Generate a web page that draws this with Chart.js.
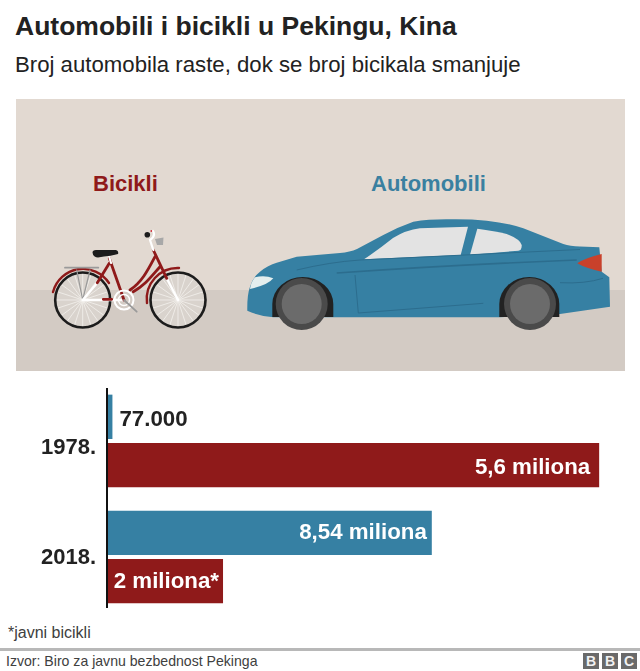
<!DOCTYPE html>
<html>
<head>
<meta charset="utf-8">
<title>Automobili i bicikli u Pekingu, Kina</title>
<script src="https://cdn.jsdelivr.net/npm/chart.js@4.4.3/dist/chart.umd.min.js"></script>
<style>
    html, body { margin: 0; padding: 0; background: #fff; }
    body { width: 640px; height: 671px; position: relative; overflow: hidden; font-family: "Liberation Sans", Arial, sans-serif; }
    .txt { position: absolute; white-space: nowrap; line-height: 1; }
    #title { left: 15px; top: 13px; font-size: 26.5px; font-weight: bold; color: #222; }
    #subtitle { left: 15px; top: 54px; font-size: 22.2px; color: #222; }
    #art { position: absolute; left: 0; top: 0; }
    #bikeLabel { left: 93px; top: 173px; font-size: 22px; font-weight: bold; color: #8f1a1a; }
    #carLabel { left: 371px; top: 173px; font-size: 22px; font-weight: bold; color: #3a80a0; }
    #chartBox { position: absolute; left: 0; top: 383px; width: 640px; height: 232px; }
    #note { left: 8px; top: 625px; font-size: 16px; color: #404040; }
    #rule { position: absolute; left: 0; top: 648px; width: 640px; height: 3px; background: #b8b8b8; }
    #source { left: 6px; top: 654px; font-size: 14.1px; color: #404040; }
    .bbc { position: absolute; top: 653px; width: 16px; height: 16px; background: #6a6a6a; color: #f2f2f2; font-size: 14px; font-weight: bold; line-height: 16px; text-align: center; }
</style>
</head>
<body>
    <div class="txt" id="title">Automobili i bicikli u Pekingu, Kina</div>
    <div class="txt" id="subtitle">Broj automobila raste, dok se broj bicikala smanjuje</div>

    <svg id="art" width="640" height="380" viewBox="0 0 640 380">
        <rect x="16" y="99" width="609" height="272" fill="#e2d9d1"/>
        <rect x="16" y="290" width="609" height="81" fill="#d3cbc4"/>

        <!-- bicycle -->
        <g id="bike" fill="none" stroke-linecap="round">
            <g id="spokes"></g>
            <circle cx="82.7" cy="300" r="27.5" stroke="#1c1c1c" stroke-width="2.6"/>
            <circle cx="178" cy="300" r="27.5" stroke="#1c1c1c" stroke-width="2.6"/>
            <path d="M53 292 A 31 31 0 0 1 109 283" stroke="#8f1a1a" stroke-width="2.4"/>
            <path d="M147 303 A 31 31 0 0 1 179 268" stroke="#8f1a1a" stroke-width="2.4"/>
            <path d="M76.7 270 L82.7 300 L90 270" stroke="#9a9a9a" stroke-width="1.2"/>
            <path d="M65 267.7 L98.3 267.7" stroke="#9a9a9a" stroke-width="1.8"/>
            <path d="M82.7 300 L97.3 282.7 M82.7 300 L124 300 M166.7 278.3 L178 300" stroke="#fff" stroke-width="2.4"/>
            <path d="M109.3 258.3 L124 300 M109.3 263.3 L97.3 282.7 M153.3 250 L166.7 278.3 M155 256.7 C148 270 142 282 130 290 M160 266.7 C150 278 145 285 133.3 291.7 M103.3 299.3 L111.7 299.3" stroke="#8f1a1a" stroke-width="2.8"/>
            <circle cx="124" cy="300" r="9.5" stroke="#fff" stroke-width="2"/>
            <circle cx="124" cy="300" r="5.5" stroke="#fff" stroke-width="1.4"/>
            <path d="M124 300 L136.7 311.7" stroke="#9a9a9a" stroke-width="1.8"/>
            <path d="M109.3 257 L111 263 M153.3 250 L150 240 Q156 236 153 231" stroke="#fff" stroke-width="2.2"/>
            <path d="M92.5 252.5 Q92.5 250 96 250 L116 250 Q119 251 118 254 Q110 256 104 256.5 L98 257.5 Q93 257 92.5 252.5 Z" fill="#1c1c1c"/>
            <path d="M155 239 L163.5 237.5 L163 245 L157 245 Z" fill="#a8a8a8"/>
            <circle cx="147.3" cy="234.7" r="2.8" fill="#1c1c1c"/>
            <circle cx="151.3" cy="231" r="0.9" fill="#d0303a"/>
        </g>

        <!-- car -->
        <path d="M247.3 310.7 Q247 295 250 286.7 Q253 277 260 271.7 Q268 265 276.7 262.7 L296.7 256.7 L340 253 Q350 252 357 249 L383.3 235 Q398 227 413.3 221.7 Q430 219 450 219.3 Q470 219 486.7 220.7 Q508 223 523.3 228.3 L563.3 244 Q570 246 580 246.5 L599.3 247.3 L601.7 271.7 L609.3 277.3 L610 306.7 L560 314 L500 317.3 L273.3 317.3 Q258 316 247.3 310.7 Z" fill="#3680a3"/>
        <path d="M364 259.3 Q378 250 393 238 Q406 230 420 228.3 L468 226.7 L460.7 255 Z" fill="#e3e3e3"/>
        <path d="M477.3 228.7 Q495 231 506.7 234 Q520 239 521.7 245 Q522 250 518.3 250.7 L470 254.7 Z" fill="#e3e3e3"/>
        <path d="M601.7 254 Q585 258 577.3 263.3 Q585 268 601.7 271.7 Z" fill="#c9412b"/>
        <path d="M250 289 Q251 282 255 277.3 Q265 275 273.3 278.3 Q268 285 250 289 Z" fill="#e4eeee"/>
        <g fill="none" stroke="#2c6d8e">
            <path d="M336.7 273 Q450 265 576.7 260" stroke-width="1.6"/>
            <path d="M296.7 270 Q330 262 360 260 L580 249.5" stroke-width="1"/>
            <path d="M355 275 L358.3 313 L483.3 303.3" stroke-width="1"/>
            <path d="M560 282.7 Q585 284 603 278.3" stroke-width="1"/>
        </g>
        <path d="M272.3 317 L272.3 304 A 30.5 27 0 0 1 333.3 304 L333.3 317 Z" fill="#222"/>
        <path d="M499.3 317 L499.3 304 A 30 27 0 0 1 559.3 304 L559.3 317 Z" fill="#222"/>
        <circle cx="301.7" cy="304" r="26" fill="#4a4a4a"/>
        <circle cx="301.7" cy="304" r="20" fill="#6b6b6b"/>
        <circle cx="530" cy="304" r="26" fill="#4a4a4a"/>
        <circle cx="530" cy="304" r="20" fill="#6b6b6b"/>
    </svg>

    <div class="txt" id="bikeLabel">Bicikli</div>
    <div class="txt" id="carLabel">Automobili</div>

    <div id="chartBox"><canvas id="chart"></canvas></div>

    <div class="txt" id="note">*javni bicikli</div>
    <div id="rule"></div>
    <div class="txt" id="source">Izvor: Biro za javnu bezbednost Pekinga</div>
    <div class="bbc" style="left:583px">B</div>
    <div class="bbc" style="left:602px">B</div>
    <div class="bbc" style="left:621px">C</div>

    <script>
        const years = ['1978.', '2018.']

        // bar lengths as drawn in the picture (in millions)
        // the printed labels of the two long bars don't follow the lengths, same as the original
        const carValues = [0.077, 5.63]
        const bikeValues = [8.54, 2]

        const carLabels = ['77.000', '8,54 miliona']
        const bikeLabels = ['5,6 miliona', '2 miliona*']

        const carColor = '#3680a3'
        const bikeColor = '#8f1a1a'

        // wheel spokes
        const spokes = document.getElementById('spokes')
        let spokeMarkup = ''
        ;[[82.7, 300], [178, 300]].forEach(w => {
            spokeMarkup += `<circle cx="${w[0]}" cy="${w[1]}" r="27" fill="#d9d3cd" stroke="none"/>`
            for (let i = 0; i < 20; i++) {
                const a = i * Math.PI / 10
                spokeMarkup += `<line x1="${w[0]}" y1="${w[1]}" x2="${w[0] + 26 * Math.cos(a)}" y2="${w[1] + 26 * Math.sin(a)}" stroke="#f4f1ee" stroke-width="0.8"/>`
            }
        })
        spokes.innerHTML = spokeMarkup

        // axis line stops short of the plot area
        const axisLine = {
            id: 'axisLine',
            afterDatasetsDraw(chart) {
                const ctx = chart.ctx
                const x = chart.scales.x.getPixelForValue(0) - 1
                ctx.save()
                ctx.strokeStyle = '#111'
                ctx.lineWidth = 2
                ctx.beginPath()
                ctx.moveTo(x, 5)
                ctx.lineTo(x, 225)
                ctx.stroke()
                ctx.restore()
            }
        }

        // year labels don't sit exactly on the category centres
        const tickNudge = [6.5, 0.5]
        const nudgeTicks = {
            id: 'nudgeTicks',
            afterLayout(chart) {
                chart.scales.y.getLabelItems().forEach((item, i) => {
                    item.options.translation[1] += tickNudge[i]
                })
            }
        }

        const barLabels = {
            id: 'barLabels',
            afterDatasetsDraw(chart) {
                const ctx = chart.ctx
                const put = (text, x, y, color, align) => {
                    ctx.fillStyle = color
                    ctx.textAlign = align
                    ctx.fillText(text, x, y)
                }
                ctx.save()
                ctx.font = 'bold 22.3px "Liberation Sans"'
                ctx.textBaseline = 'middle'
                const cars = chart.getDatasetMeta(0).data
                const bikes = chart.getDatasetMeta(1).data
                put(carLabels[0], cars[0].x + 7, cars[0].y + 3.5, '#222', 'left')
                put(carLabels[1], cars[1].x - 5, cars[1].y + 0.5, '#fff', 'right')
                put(bikeLabels[0], bikes[0].x - 9, bikes[0].y + 2.5, '#fff', 'right')
                put(bikeLabels[1], bikes[1].x - 4, bikes[1].y + 0.5, '#fff', 'right')
                ctx.restore()
            }
        }

        new Chart(document.getElementById('chart'), {
            type: 'bar',
            data: {
                labels: years,
                datasets: [
                    { label: 'Automobili', data: carValues, backgroundColor: carColor },
                    { label: 'Bicikli', data: bikeValues, backgroundColor: bikeColor }
                ]
            },
            options: {
                indexAxis: 'y',
                responsive: true,
                maintainAspectRatio: false,
                animation: false,
                categoryPercentage: 0.834,
                barPercentage: 0.917,
                layout: { padding: 0 },
                plugins: { legend: { display: false }, tooltip: { enabled: false } },
                scales: {
                    x: { display: false, min: 0, max: 9.25 },
                    y: {
                        grid: { display: false },
                        border: { display: false },
                        afterFit(scale) {
                            scale.width = 108
                            // no room reserved for half a label above and below
                            scale.paddingTop = 0
                            scale.paddingBottom = 0
                        },
                        ticks: {
                            color: '#222',
                            padding: 4,
                            font: { family: '"Liberation Sans"', size: 22, weight: 'bold' }
                        }
                    }
                }
            },
            plugins: [axisLine, nudgeTicks, barLabels]
        })
    </script>
</body>
</html>
